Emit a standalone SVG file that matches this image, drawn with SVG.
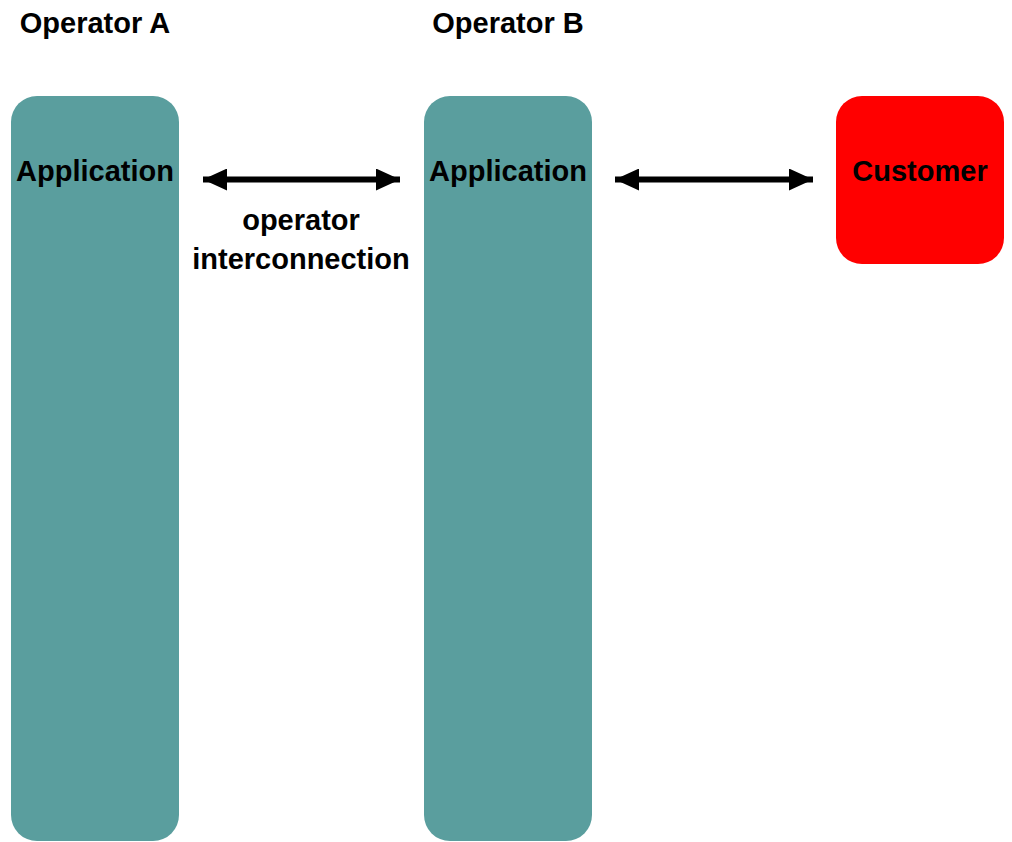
<svg xmlns="http://www.w3.org/2000/svg" width="1012" height="842" viewBox="0 0 1012 842">
  <style>
    .lbl { font-family: "Liberation Sans", Arial, sans-serif; font-weight: bold; font-size: 29px; fill: #000; text-anchor: middle; }
    .app { fill: #5a9e9e; }
    .cust { fill: #ff0000; }
    .link { stroke: #000; stroke-width: 6; fill: none; marker-start: url(#head); marker-end: url(#head); }
  </style>
  <defs>
    <marker id="head" viewBox="0 0 24 22" refX="24" refY="11" markerWidth="24" markerHeight="22" markerUnits="userSpaceOnUse" orient="auto-start-reverse">
      <path d="M0,0 L24,11 L0,22 Z" fill="#000"/>
    </marker>
  </defs>
  <rect width="1012" height="842" fill="#fff"/>

  <text class="lbl" x="95" y="33">Operator A</text>
  <text class="lbl" x="508" y="33">Operator B</text>

  <g id="app-a">
    <rect class="app" x="11" y="96" width="168" height="745" rx="26" ry="26"/>
    <text class="lbl" x="95" y="180.5">Application</text>
  </g>
  <g id="app-b">
    <rect class="app" x="424" y="96" width="168" height="745" rx="26" ry="26"/>
    <text class="lbl" x="508" y="180.5">Application</text>
  </g>
  <g id="customer">
    <rect class="cust" x="836" y="96" width="168" height="168" rx="26" ry="26"/>
    <text class="lbl" x="920" y="180.5">Customer</text>
  </g>

  <g id="connectors">
    <line class="link" x1="203" y1="179.5" x2="400" y2="179.5"/>
    <line class="link" x1="615" y1="179.5" x2="813" y2="179.5"/>
    <text class="lbl" x="301" y="229.5">operator</text>
    <text class="lbl" x="301" y="268.5">interconnection</text>
  </g>
</svg>
